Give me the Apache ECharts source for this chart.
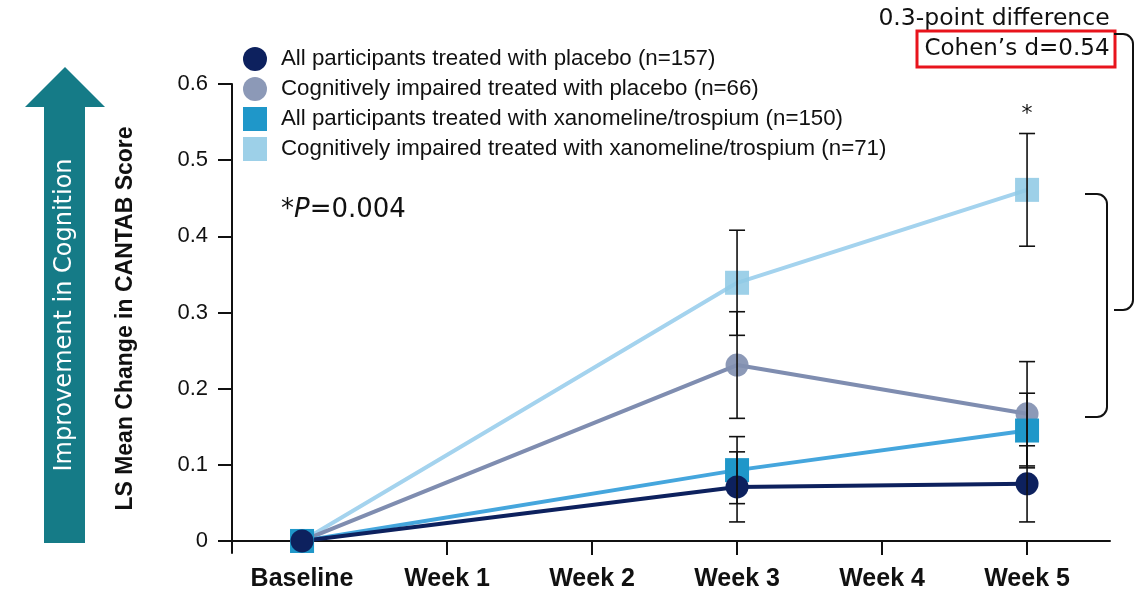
<!DOCTYPE html>
<html>
<head>
<meta charset="utf-8">
<script src="https://cdn.jsdelivr.net/npm/echarts@6/dist/echarts.min.js"></script>
<style>html,body{margin:0;padding:0;background:#fff;}#c{width:1138px;height:590px;}</style>
</head>
<body>
<div id="c"></div>
<script>
// ---- data ----
const xLabels = ['Baseline', 'Week 1', 'Week 2', 'Week 3', 'Week 4', 'Week 5'];
const timeIdx = [0, 3, 5];
const allPlacebo    = [0, 0.071, 0.075];
const allPlaceboErr = [0, 0.046, 0.050];
const ciPlacebo     = [0, 0.231, 0.167];
const ciPlaceboErr  = [0, 0.070, 0.0685];
const allXano       = [0, 0.093, 0.145];
const allXanoErr    = [0, 0.044, 0.049];
const ciXano        = [0, 0.339, 0.461];
const ciXanoErr     = [0, 0.069, 0.074];
const yTicks = [0, 0.1, 0.2, 0.3, 0.4, 0.5, 0.6];
const xTicks = [1, 2, 3, 4, 5];
const xLabelVals = [0, 1, 2, 3, 4, 5];
const sigPoints = [[5, 0.461 + 0.074]];
const names = [
  'All participants treated with placebo (n=157)',
  'Cognitively impaired treated with placebo (n=66)',
  'All participants treated with xanomeline/trospium (n=150)',
  'Cognitively impaired treated with xanomeline/trospium (n=71)'
];

const chart = echarts.init(document.getElementById('c'), null, {renderer: 'canvas'});

function pts(vals) { return timeIdx.map((t, i) => [t, vals[i]]); }
function errPts(vals, errs) {
  return timeIdx.map((t, i) => [t, vals[i] - errs[i], vals[i] + errs[i]]).filter((d, i) => errs[i] > 0);
}
function renderErr(params, api) {
  const x = api.value(0), lo = api.value(1), hi = api.value(2);
  const a = api.coord([x, lo]), b = api.coord([x, hi]);
  const w = 8;
  const st = {stroke: '#111', lineWidth: 1.6};
  return {type: 'group', children: [
    {type: 'line', shape: {x1: a[0], y1: a[1], x2: b[0], y2: b[1]}, style: st},
    {type: 'line', shape: {x1: a[0] - w, y1: a[1], x2: a[0] + w, y2: a[1]}, style: st},
    {type: 'line', shape: {x1: b[0] - w, y1: b[1], x2: b[0] + w, y2: b[1]}, style: st}
  ]};
}
function renderSig(params, api) {
  const p = api.coord([api.value(0), api.value(1)]);
  return {type: 'text', x: p[0], y: p[1] - 8, style: {text: '*', fill: '#111', font: '22px "DejaVu Sans"', align: 'center', verticalAlign: 'bottom'}};
}

const colAP = '#0d215e', colCP = '#8290b1', colAX = '#1f97c9', colCX = '#8fcae5';

const option = {
  animation: false,
  grid: {left: 232, right: 28, top: 84, bottom: 37, containLabel: false, outerBoundsMode: 'none'},
  legend: {
    orient: 'vertical', left: 238, top: 42, itemWidth: 24, itemHeight: 24, itemGap: 6,
    textStyle: {fontFamily: 'Liberation Sans', fontSize: 22.3, color: '#111', padding: [0, 0, 0, 9]},
    data: [
      {name: names[0], icon: 'circle', itemStyle: {color: colAP}},
      {name: names[1], icon: 'circle', itemStyle: {color: colCP}},
      {name: names[2], icon: 'rect', itemStyle: {color: colAX}},
      {name: names[3], icon: 'rect', itemStyle: {color: colCX}}
    ],
    selectedMode: false
  },
  xAxis: {
    type: 'value', min: -0.483, max: 5.572,
    axisLine: {onZero: true, lineStyle: {color: '#111', width: 2}},
    axisTick: {show: true, customValues: xTicks, length: 14, lineStyle: {color: '#111', width: 2}},
    axisLabel: {customValues: xLabelVals, formatter: v => xLabels[Math.round(v)], margin: 14,
      fontFamily: 'Liberation Sans', fontWeight: 'bold', fontSize: 25, color: '#111'},
    splitLine: {show: false}
  },
  yAxis: {
    type: 'value', min: -0.0158, max: 0.6,
    name: 'LS Mean Change in CANTAB Score', nameLocation: 'middle', nameGap: 95,
    nameTextStyle: {fontFamily: 'Liberation Sans', fontWeight: 'bold', fontSize: 23, color: '#111'},
    axisLine: {show: true, onZero: false, lineStyle: {color: '#111', width: 2}},
    axisTick: {show: true, customValues: yTicks, length: 14, lineStyle: {color: '#111', width: 2}},
    axisLabel: {customValues: yTicks, formatter: v => (v === 0 ? '0' : v.toFixed(1)), margin: 24,
      fontFamily: 'Liberation Sans', fontSize: 22, color: '#111'},
    splitLine: {show: false}
  },
  series: [
    {name: names[3], type: 'line', data: pts(ciXano), symbol: 'rect', symbolSize: 24,
      lineStyle: {color: '#a4d3ee', width: 4}, itemStyle: {color: colCX, opacity: 0.88}, z: 2},
    {name: names[1], type: 'line', data: pts(ciPlacebo), symbol: 'circle', symbolSize: 23,
      lineStyle: {color: '#7f8db0', width: 4}, itemStyle: {color: colCP, opacity: 0.92}, z: 2},
    {name: names[2], type: 'line', data: pts(allXano), symbol: 'rect', symbolSize: 24,
      lineStyle: {color: '#45a6dd', width: 4}, itemStyle: {color: colAX}, z: 2},
    {name: names[0], type: 'line', data: pts(allPlacebo), symbol: 'circle', symbolSize: 23,
      lineStyle: {color: colAP, width: 4}, itemStyle: {color: colAP}, z: 2},
    {type: 'custom', name: 'errCX', data: errPts(ciXano, ciXanoErr), renderItem: renderErr, z: 5},
    {type: 'custom', name: 'errCP', data: errPts(ciPlacebo, ciPlaceboErr), renderItem: renderErr, z: 5},
    {type: 'custom', name: 'errAP', data: errPts(allPlacebo, allPlaceboErr), renderItem: renderErr, z: 5},
    {type: 'custom', name: 'errAX', data: errPts(allXano, allXanoErr), renderItem: renderErr, z: 5},
    {type: 'custom', name: 'sig', data: sigPoints, renderItem: renderSig, z: 5}
  ],
  graphic: [
    {type: 'polygon', shape: {points: [[65, 67], [105, 107], [85, 107], [85, 543], [44, 543], [44, 107], [25, 107]]},
      style: {fill: '#157b87'}},
    {type: 'text', x: 65, y: 315, rotation: Math.PI / 2,
      style: {text: 'Improvement in Cognition', fill: '#fff', font: '24px "DejaVu Sans"', align: 'center', verticalAlign: 'middle'}},
    {type: 'text', x: 281, y: 210,
      style: {text: '*{i|P}=0.004', fill: '#111', font: '26px "DejaVu Sans"', verticalAlign: 'middle',
        rich: {i: {fontStyle: 'italic', font: 'italic 26px "DejaVu Sans"', fill: '#111'}}}},
    {type: 'text', x: 994, y: 19,
      style: {text: '0.3-point difference', fill: '#111', font: '23.5px "DejaVu Sans"', align: 'center', verticalAlign: 'middle'}},
    {type: 'rect', shape: {x: 917, y: 31, width: 198, height: 36}, style: {fill: null, stroke: '#e8141c', lineWidth: 3}},
    {type: 'text', x: 1017, y: 49,
      style: {text: 'Cohen\u2019s d=0.54', fill: '#111', font: '23px "DejaVu Sans"', align: 'center', verticalAlign: 'middle'}},
    // big bracket
    {type: 'line', shape: {x1: 1114, y1: 34, x2: 1123, y2: 34}, style: {stroke: '#111', lineWidth: 2}},
    {type: 'arc', shape: {cx: 1123, cy: 44, r: 10, startAngle: -Math.PI / 2, endAngle: 0, clockwise: true}, style: {stroke: '#111', lineWidth: 2, fill: null}},
    {type: 'line', shape: {x1: 1133, y1: 44, x2: 1133, y2: 300}, style: {stroke: '#111', lineWidth: 2}},
    {type: 'arc', shape: {cx: 1123, cy: 300, r: 10, startAngle: 0, endAngle: Math.PI / 2, clockwise: true}, style: {stroke: '#111', lineWidth: 2, fill: null}},
    {type: 'line', shape: {x1: 1123, y1: 310, x2: 1114, y2: 310}, style: {stroke: '#111', lineWidth: 2}},
    // small bracket
    {type: 'line', shape: {x1: 1085, y1: 194, x2: 1097, y2: 194}, style: {stroke: '#111', lineWidth: 2}},
    {type: 'arc', shape: {cx: 1097, cy: 204, r: 10, startAngle: -Math.PI / 2, endAngle: 0, clockwise: true}, style: {stroke: '#111', lineWidth: 2, fill: null}},
    {type: 'line', shape: {x1: 1107, y1: 204, x2: 1107, y2: 407}, style: {stroke: '#111', lineWidth: 2}},
    {type: 'arc', shape: {cx: 1097, cy: 407, r: 10, startAngle: 0, endAngle: Math.PI / 2, clockwise: true}, style: {stroke: '#111', lineWidth: 2, fill: null}},
    {type: 'line', shape: {x1: 1097, y1: 417, x2: 1085, y2: 417}, style: {stroke: '#111', lineWidth: 2}}
  ]
};
chart.setOption(option);
</script>
</body>
</html>
